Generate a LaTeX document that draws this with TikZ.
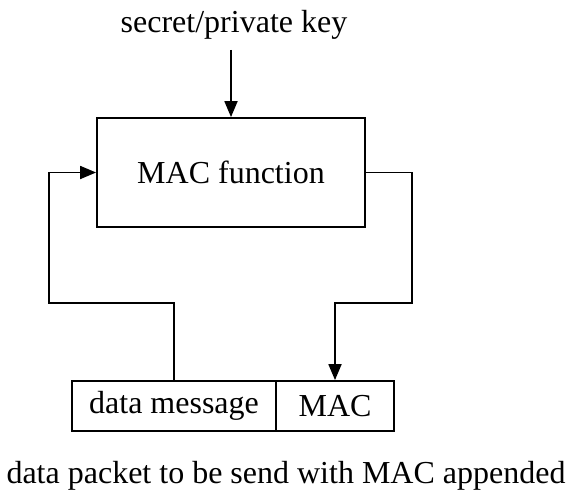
\documentclass[tikz,border=0pt]{standalone}
\usepackage{fontspec}
\setmainfont{Liberation Serif}
\usetikzlibrary{arrows.meta}

\begin{document}
\begin{tikzpicture}[x=1pt,y=-1pt,
        box/.style={draw, line width=1.8pt, inner sep=0pt},
        arr/.style={-{Triangle[length=16pt,width=13pt]}, line width=1.8pt},
        lbl/.style={font=\fontsize{32}{38}\selectfont}]
        \useasboundingbox (0,0) rectangle (572,500);
        \node[lbl,anchor=base] (key) at (234,32.5) {secret/private key};
        \node[box,lbl,minimum width=268pt,minimum height=109pt] (func) at (231,172.5) {MAC function};
        \node[box,lbl,minimum width=204pt,minimum height=50pt] (msg) at (174,406) {data message};
        \node[box,lbl,minimum width=118pt,minimum height=50pt] (mac) at (335,406) {MAC};
        \node[lbl,anchor=base] (packet) at (286,483) {data packet to be send with MAC appended};
        \coordinate (lft) at (49,303);
        \coordinate (rgt) at (412,303);
        \coordinate (keyend) at (231,50);
        \draw[arr] (keyend) -- (func.north);
        \draw[arr] (msg.north) |- (lft) |- (func.west);
        \draw[arr] (func.east) -| (rgt) -| (mac.north);
    \end{tikzpicture}
\end{document}
